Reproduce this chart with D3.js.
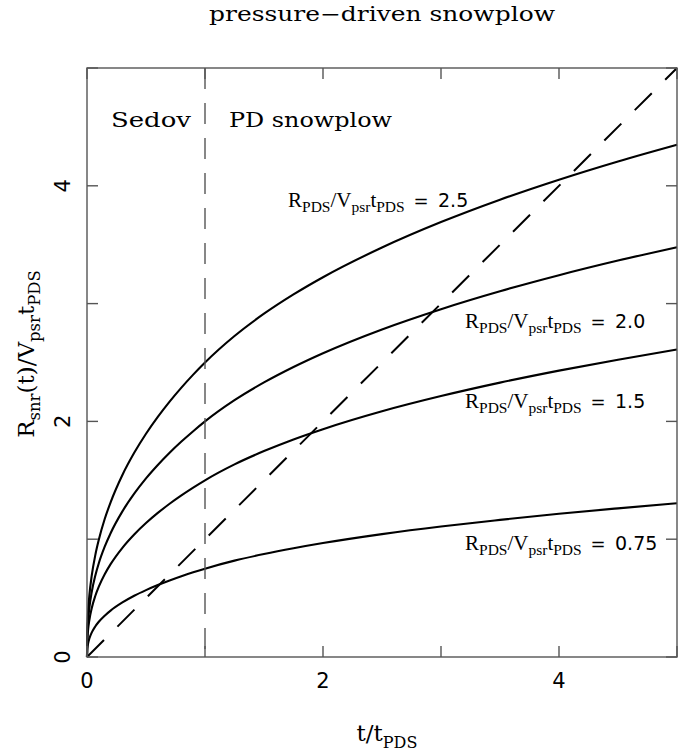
<!DOCTYPE html>
<html>
<head>
<meta charset="utf-8">
<script src="https://cdn.jsdelivr.net/npm/d3@7"></script>
<style>
  html, body { margin: 0; padding: 0; background: #fff; }
  svg { display: block; }
  .serif { font-family: "DejaVu Serif", "Liberation Serif", serif; fill: #000; }
  .roman { font-family: "Liberation Serif", "DejaVu Serif", serif; fill: #000; }
  .num { font-family: "DejaVu Sans", "Liberation Sans", sans-serif; fill: #000; }
</style>
</head>
<body>
<svg id="chart" width="696" height="753"></svg>
<script>
// Time since explosion in units of t_PDS
const tValues = [0, 0.002, 0.005, 0.01, 0.02, 0.04, 0.07, 0.1, 0.15, 0.2, 0.3, 0.4, 0.5,
                 0.6, 0.7, 0.8, 0.9, 1.0, 1.25, 1.5, 1.75, 2.0, 2.5, 3.0, 3.5, 4.0, 4.5, 5.0];

// Remnant radius R_snr / (V_psr t_PDS) for each value of R_PDS / (V_psr t_PDS)
const radius250 = [0, 0.208, 0.300, 0.396, 0.523, 0.690, 0.863, 0.995, 1.171, 1.313, 1.545, 1.733, 1.895,
                   2.038, 2.168, 2.287, 2.397, 2.500, 2.725, 2.914, 3.078, 3.224, 3.476, 3.692, 3.882, 4.052, 4.207, 4.349];
const radius200 = [0, 0.166, 0.240, 0.317, 0.418, 0.552, 0.690, 0.796, 0.936, 1.051, 1.236, 1.386, 1.516,
                   1.630, 1.734, 1.829, 1.917, 2.000, 2.180, 2.331, 2.462, 2.579, 2.781, 2.953, 3.105, 3.241, 3.365, 3.479];
const radius150 = [0, 0.125, 0.180, 0.238, 0.314, 0.414, 0.518, 0.597, 0.702, 0.788, 0.927, 1.040, 1.137,
                   1.223, 1.301, 1.372, 1.438, 1.500, 1.635, 1.748, 1.847, 1.934, 2.086, 2.215, 2.329, 2.431, 2.524, 2.610];
const radius075 = [0, 0.062, 0.090, 0.119, 0.157, 0.207, 0.259, 0.299, 0.351, 0.394, 0.463, 0.520, 0.568,
                   0.611, 0.650, 0.686, 0.719, 0.750, 0.818, 0.874, 0.923, 0.967, 1.043, 1.108, 1.164, 1.216, 1.262, 1.305];

const seriesValues = [radius250, radius200, radius150, radius075];
const seriesLabels = ["2.5", "2.0", "1.5", "0.75"];

// Pulsar position r = V_psr t (dashed diagonal)
const pulsarT = [0, 5];
const pulsarR = [0, 5];

// Sedov / PDS transition time
const transitionT = 1;

const xTicks = [0, 1, 2, 3, 4, 5];
const yTicks = [0, 1, 2, 3, 4, 5];
const xTickLabels = [0, 2, 4];
const yTickLabels = [0, 2, 4];

const svg = d3.select("#chart");
const margin = { left: 87, right: 19, top: 68, bottom: 96 };
const W = 696, H = 753;
const x = d3.scaleLinear().domain([0, 5]).range([margin.left, W - margin.right]);
const y = d3.scaleLinear().domain([0, 5]).range([H - margin.bottom, margin.top]);

const frameColor = "#555";
const tickLen = 11;

// Title
svg.append("text").attr("class", "serif")
  .attr("x", 382).attr("y", 21)
  .attr("text-anchor", "middle")
  .attr("font-size", 20)
  .attr("textLength", 346).attr("lengthAdjust", "spacingAndGlyphs")
  .text("pressure\u2212driven snowplow");

// Curves
const line = d3.line()
  .x(d => x(d[0])).y(d => y(d[1]))
  .curve(d3.curveMonotoneX);

seriesValues.forEach(vals => {
  svg.append("path")
    .datum(tValues.map((t, i) => [t, vals[i]]))
    .attr("d", line)
    .attr("fill", "none")
    .attr("stroke", "#000")
    .attr("stroke-width", 2.1);
});

// Pulsar track
svg.append("path")
  .datum(pulsarT.map((t, i) => [t, pulsarR[i]]))
  .attr("d", d3.line().x(d => x(d[0])).y(d => y(d[1])))
  .attr("fill", "none")
  .attr("stroke", "#000")
  .attr("stroke-width", 2)
  .attr("stroke-dasharray", "24,19");

// Sedov / PDS boundary
svg.append("line")
  .attr("x1", x(transitionT)).attr("x2", x(transitionT))
  .attr("y1", y(5)).attr("y2", y(0))
  .attr("stroke", frameColor)
  .attr("stroke-width", 1.4)
  .attr("stroke-dasharray", "21,14");

// Frame
svg.append("rect")
  .attr("x", x(0)).attr("y", y(5))
  .attr("width", x(5) - x(0)).attr("height", y(0) - y(5))
  .attr("fill", "none").attr("stroke", frameColor).attr("stroke-width", 1.4);

// Inward ticks on all four sides
const ticks = svg.append("g").attr("stroke", frameColor).attr("stroke-width", 1.4);
xTicks.forEach(v => {
  ticks.append("line").attr("x1", x(v)).attr("x2", x(v)).attr("y1", y(0)).attr("y2", y(0) - tickLen);
  ticks.append("line").attr("x1", x(v)).attr("x2", x(v)).attr("y1", y(5)).attr("y2", y(5) + tickLen);
});
yTicks.forEach(v => {
  ticks.append("line").attr("y1", y(v)).attr("y2", y(v)).attr("x1", x(0)).attr("x2", x(0) + tickLen);
  ticks.append("line").attr("y1", y(v)).attr("y2", y(v)).attr("x1", x(5)).attr("x2", x(5) - tickLen);
});

// Tick labels
xTickLabels.forEach(v => {
  svg.append("text").attr("class", "num")
    .attr("x", x(v)).attr("y", y(0) + 31)
    .attr("text-anchor", "middle").attr("font-size", 21)
    .text(v);
});
yTickLabels.forEach(v => {
  svg.append("text").attr("class", "num")
    .attr("transform", `translate(${x(0) - 17},${y(v)}) rotate(-90)`)
    .attr("text-anchor", "middle").attr("font-size", 21)
    .text(v);
});

// Text with subscripts: parts are [string, isSubscript]
function richText(g, cls, parts, size, subSize, subShift) {
  const t = g.append("text").attr("class", cls).attr("font-size", size);
  parts.forEach(([s, sub], i) => {
    const prevSub = i > 0 && parts[i - 1][1];
    const ts = t.append("tspan").text(s);
    if (sub && !prevSub) ts.attr("dy", subShift);
    if (!sub && prevSub) ts.attr("dy", -subShift);
    ts.attr("font-size", sub ? subSize : size);
  });
  return t;
}

// Phase labels
svg.append("text").attr("class", "serif")
  .attr("x", 111).attr("y", 127).attr("font-size", 21)
  .attr("textLength", 80).attr("lengthAdjust", "spacingAndGlyphs")
  .text("Sedov");
svg.append("text").attr("class", "serif")
  .attr("x", 229).attr("y", 127).attr("font-size", 21)
  .attr("textLength", 163).attr("lengthAdjust", "spacingAndGlyphs")
  .text("PD snowplow");

// Curve labels: ratio expression, equals sign, value
const labelPos = [[288, 207], [465, 328], [465, 408], [465, 550]];
seriesLabels.forEach((lab, i) => {
  const [lx, ly] = labelPos[i];
  const g = svg.append("g").attr("transform", `translate(${lx},${ly})`);
  richText(g, "roman", [["R", false], ["PDS", true], ["/V", false], ["psr", true], ["t", false], ["PDS", true]],
           21, 15.5, 5);
  g.append("text").attr("class", "num")
    .attr("x", 133).attr("y", 0).attr("text-anchor", "middle")
    .attr("font-size", 18).text("=");
  g.append("text").attr("class", "num")
    .attr("x", 150).attr("y", 0)
    .attr("font-size", 19).text(lab);
});

// Axis titles
const xt = svg.append("g").attr("transform", "translate(387,741)");
richText(xt, "serif", [["t/t", false], ["PDS", true]], 23, 16, 7).attr("text-anchor", "middle");

const yt = svg.append("g").attr("transform", "translate(34,354) rotate(-90)");
richText(yt, "serif", [["R", false], ["snr", true], ["(t)/V", false], ["psr", true], ["t", false], ["PDS", true]], 23, 16.5, 6)
  .attr("text-anchor", "middle");
</script>
</body>
</html>
